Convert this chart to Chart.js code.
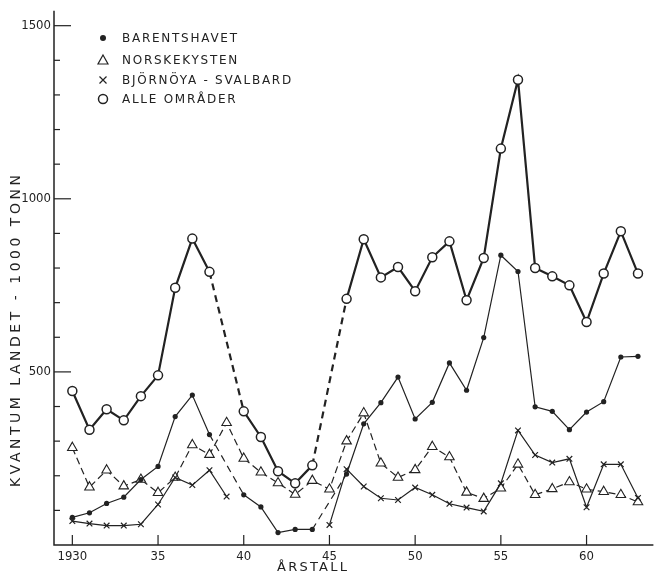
<!DOCTYPE html>
<html>
<head>
<meta charset="utf-8">
<script src="https://cdn.jsdelivr.net/npm/chart.js@4.4.0/dist/chart.umd.min.js"></script>
<style>
    body { margin: 0; background: #fff; }
    #wrap { width: 660px; height: 575px; }
</style>
</head>
<body>
<div id="wrap"><canvas id="myChart"></canvas></div>
<script>
// landings 1930-1963, 1000 tonn
const years = [1930, 1931, 1932, 1933, 1934, 1935, 1936, 1937, 1938, 1939,
               1940, 1941, 1942, 1943, 1944, 1945, 1946, 1947, 1948, 1949,
               1950, 1951, 1952, 1953, 1954, 1955, 1956, 1957, 1958, 1959,
               1960, 1961, 1962, 1963];

const barentshavet = [80, 93, 120, 138, 189, 227, 371, 433, 319, null,
                      145, 110, 36, 45, 45, null, 205, 350, 411, 485,
                      364, 412, 526, 447, 599, 837, 790, 399, 386, 333,
                      384, 414, 543, 545];

const norskekysten = [281, 167, 216, 170, 189, 151, 195, 289, 261, 353,
                      250, 210, 179, 146, 186, 161, 300, 381, 236, 195,
                      217, 284, 254, 152, 134, 164, 233, 145, 162, 182,
                      161, 154, 145, 124];

const bjornoya = [69, 62, 56, 56, 60, 117, 195, 173, 216, 140,
                  null, null, null, null, null, 58, 219, 169, 135, 130,
                  166, 145, 119, 108, 97, 178, 331, 260, 238, 249,
                  109, 233, 233, 136];

const alleOmrader = [445, 333, 392, 360, 430, 490, 743, 885, 789, null,
                     386, 312, 213, 178, 230, null, 711, 883, 773, 803,
                     733, 831, 877, 707, 829, 1145, 1344, 800, 776, 750,
                     644, 784, 906, 784];

const seriesLabels = ['BARENTSHAVET', 'NORSKEKYSTEN', 'BJÖRNÖYA - SVALBARD', 'ALLE OMRÅDER'];
const yLabelTicks = [500, 1000, 1500];
const xLabelTicks = [1930, 1935, 1940, 1945, 1950, 1955, 1960];

const ink = '#222';
const tickFont = '"DejaVu Sans Condensed", "DejaVu Sans", sans-serif';
const textFont = '"DejaVu Sans", sans-serif';

const toPoints = arr => years.map((yr, i) => ({ x: yr, y: arr[i] }));
const gapDash = ctx => (ctx.p0.skip || ctx.p1.skip) ? [7, 5] : undefined;

// stretch a text to a given width with letter spacing
function spacedText(ctx, text, x, y, width) {
    ctx.letterSpacing = '0px';
    const w = ctx.measureText(text).width;
    const sp = Math.max(0, (width - w) / (text.length - 1));
    ctx.letterSpacing = sp.toFixed(2) + 'px';
    ctx.fillText(text, x, y);
    ctx.letterSpacing = '0px';
}

// axes, tick marks, legend and titles drawn by hand
const paperPlugin = {
    id: 'paper',
    afterDraw(chart) {
        const ctx = chart.ctx;
        const area = chart.chartArea;
        const xs = chart.scales.x;
        const ys = chart.scales.y;
        ctx.save();
        ctx.strokeStyle = ink;
        ctx.fillStyle = ink;
        ctx.lineWidth = 1.5;

        ctx.beginPath();
        ctx.moveTo(area.left, area.top);
        ctx.lineTo(area.left, area.bottom);
        ctx.lineTo(area.right, area.bottom);
        ctx.stroke();

        ctx.lineWidth = 1.2;
        for (let v = 100; v <= 1500; v += 100) {
            const py = ys.getPixelForValue(v);
            const len = yLabelTicks.includes(v) ? 17 : 6;
            ctx.beginPath();
            ctx.moveTo(area.left, py);
            ctx.lineTo(area.left + len, py);
            ctx.stroke();
        }
        xLabelTicks.forEach(yr => {
            const px = xs.getPixelForValue(yr);
            ctx.beginPath();
            ctx.moveTo(px, area.bottom);
            ctx.lineTo(px, area.bottom - 10);
            ctx.stroke();
        });

        // legend
        ctx.font = '12px ' + textFont;
        ctx.textBaseline = 'middle';
        ctx.textAlign = 'left';
        ctx.letterSpacing = '0px';
        const base = ctx.measureText(seriesLabels[0]).width;
        const legendSpacing = Math.max(0, (115 - base) / (seriesLabels[0].length - 1));
        const rows = [38, 60, 80, 99];
        chart.data.datasets.forEach((ds, i) => {
            const mx = 103, my = rows[i];
            ctx.lineWidth = 1.2;
            ctx.beginPath();
            if (ds.pointStyle === 'triangle') {
                ctx.moveTo(mx, my - 5);
                ctx.lineTo(mx + 5, my + 4);
                ctx.lineTo(mx - 5, my + 4);
                ctx.closePath();
                ctx.stroke();
            } else if (ds.pointStyle === 'crossRot') {
                ctx.moveTo(mx - 3.5, my - 3.5);
                ctx.lineTo(mx + 3.5, my + 3.5);
                ctx.moveTo(mx + 3.5, my - 3.5);
                ctx.lineTo(mx - 3.5, my + 3.5);
                ctx.stroke();
            } else if (ds.pointBackgroundColor === ink) {
                ctx.arc(mx, my, 3, 0, Math.PI * 2);
                ctx.fill();
            } else {
                ctx.lineWidth = 1.5;
                ctx.arc(mx, my, 4.5, 0, Math.PI * 2);
                ctx.stroke();
            }
            ctx.letterSpacing = legendSpacing.toFixed(2) + 'px';
            ctx.fillText(ds.label, 122, my + 1);
        });
        ctx.letterSpacing = '0px';

        // axis titles
        ctx.font = '13px ' + textFont;
        ctx.textAlign = 'left';
        spacedText(ctx, 'ÅRSTALL', 277, 568, 70);
        ctx.save();
        ctx.font = '14px ' + textFont;
        ctx.translate(16, 487);
        ctx.rotate(-Math.PI / 2);
        spacedText(ctx, 'KVANTUM LANDET - 1000 TONN', 0, 0, 312);
        ctx.restore();
        ctx.restore();
    }
};

const ctx = document.getElementById('myChart').getContext('2d');

const myChart = new Chart(ctx, {
    type: 'line',
    data: {
        datasets: [{
            label: seriesLabels[0],
            data: toPoints(barentshavet),
            borderColor: ink,
            borderWidth: 1.2,
            pointStyle: 'circle',
            pointRadius: 2.6,
            pointBackgroundColor: ink,
            pointBorderColor: ink,
            pointBorderWidth: 0,
            spanGaps: true,
            segment: { borderDash: gapDash },
            order: 2
        }, {
            label: seriesLabels[1],
            data: toPoints(norskekysten),
            borderColor: ink,
            borderWidth: 1.2,
            borderDash: [7, 4],
            pointStyle: 'triangle',
            pointRadius: 5.5,
            pointBackgroundColor: '#fff',
            pointBorderColor: ink,
            pointBorderWidth: 1.1,
            order: 3
        }, {
            label: seriesLabels[2],
            data: toPoints(bjornoya),
            borderColor: ink,
            borderWidth: 1.2,
            pointStyle: 'crossRot',
            pointRadius: 4,
            pointBorderColor: ink,
            pointBorderWidth: 1.2,
            spanGaps: false,
            order: 1
        }, {
            label: seriesLabels[3],
            data: toPoints(alleOmrader),
            borderColor: ink,
            borderWidth: 2.2,
            pointStyle: 'circle',
            pointRadius: 4.5,
            pointBackgroundColor: '#fff',
            pointBorderColor: ink,
            pointBorderWidth: 1.5,
            spanGaps: true,
            segment: { borderDash: gapDash },
            order: 0
        }]
    },
    options: {
        responsive: true,
        maintainAspectRatio: false,
        animation: false,
        layout: { padding: { top: 5, right: 0, left: 0, bottom: 0 } },
        plugins: {
            legend: { display: false },
            tooltip: { enabled: false }
        },
        elements: { line: { tension: 0 } },
        scales: {
            x: {
                type: 'linear',
                min: 1928.93,
                max: 1963.9,
                afterFit: scale => { scale.height = 30; },
                grid: { display: false, drawTicks: false },
                border: { display: false },
                ticks: {
                    stepSize: 5,
                    includeBounds: false,
                    autoSkip: false,
                    maxRotation: 0,
                    padding: 4,
                    color: ink,
                    font: { family: tickFont, size: 13 },
                    callback: v => v === 1930 ? '1930' : String(v).slice(2)
                }
            },
            y: {
                min: 0,
                max: 1543,
                afterFit: scale => { scale.width = 54; },
                grid: { display: false, drawTicks: false },
                border: { display: false },
                ticks: {
                    stepSize: 100,
                    includeBounds: false,
                    autoSkip: false,
                    padding: 3,
                    color: ink,
                    font: { family: tickFont, size: 13 },
                    callback: v => yLabelTicks.includes(v) ? String(v) : ''
                }
            }
        }
    },
    plugins: [paperPlugin]
});
</script>
</body>
</html>
